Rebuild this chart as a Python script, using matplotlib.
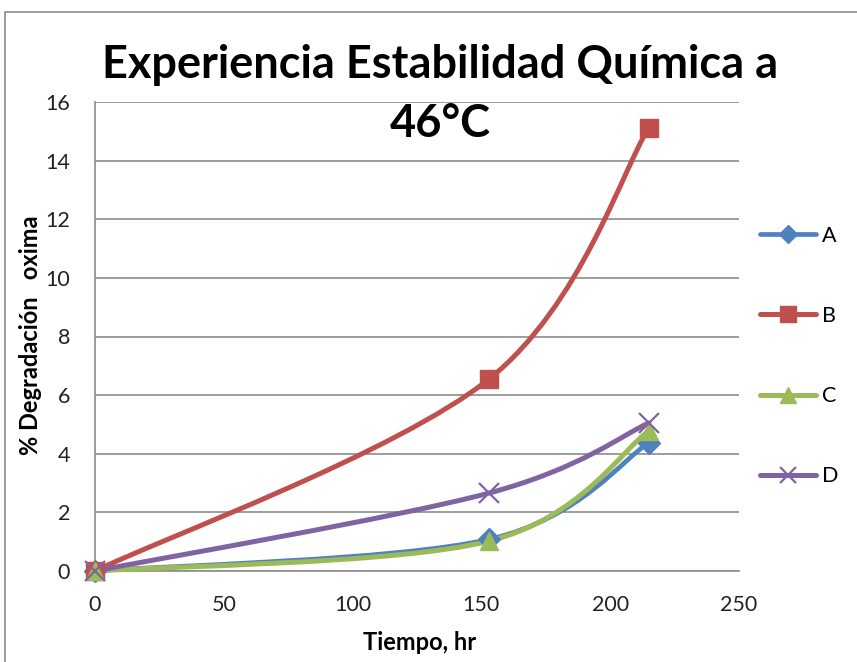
import matplotlib.pyplot as plt
import numpy as np
from matplotlib.path import Path
from matplotlib.patches import PathPatch, Rectangle
from matplotlib.lines import Line2D

plt.rcParams['font.family'] = ['Lato', 'DejaVu Sans']

tiempo = [0, 153, 215]
serie_a = [0.0, 1.08, 4.37]
serie_b = [0.0, 6.55, 15.12]
serie_c = [0.0, 1.02, 4.78]
serie_d = [0.0, 2.66, 5.05]
nombres = ['A', 'B', 'C', 'D']
colores = ['#4F81BD', '#C0504D', '#9BBB59', '#8064A2']
marcadores = ['D', 's', '^', 'x']
tam_marcador = [11, 13, 13, 14]
ancho_linea = [3.4, 3.6, 3.6, 3.6]


def curva_suave(xs, ys):
    # Catmull-Rom segments expressed as cubic Bezier path
    p = np.column_stack([xs, ys]).astype(float)
    n = len(p)
    verts = [p[0]]
    codes = [Path.MOVETO]
    for i in range(n - 1):
        p_prev = p[i - 1] if i > 0 else p[i]
        p_next = p[i + 2] if i + 2 < n else p[i + 1]
        c1 = p[i] + (p[i + 1] - p_prev) / 6.0
        c2 = p[i + 1] - (p_next - p[i]) / 6.0
        verts += [c1, c2, p[i + 1]]
        codes += [Path.CURVE4] * 3
    return Path(verts, codes)


fig = plt.figure(figsize=(8.57, 6.62), dpi=100)
ax = fig.add_axes([95 / 857, 1 - 571 / 662, 644 / 857, 469 / 662])

# outer chart frame
fig.patches.append(Rectangle((5 / 857, -0.1), 1.2, 1 - 12 / 662 + 0.1,
                             transform=fig.transFigure, fill=False,
                             edgecolor='#8c8c8c', linewidth=1.2))

series = [serie_a, serie_b, serie_c, serie_d]
handles = []
for ys, nom, col, mk, ms, lw in zip(series, nombres, colores, marcadores,
                                    tam_marcador, ancho_linea):
    ax.add_patch(PathPatch(curva_suave(tiempo, ys), fill=False,
                           edgecolor=col, linewidth=lw, capstyle='round',
                           zorder=3, clip_on=False))
    if mk == 'x':
        ax.plot(tiempo, ys, linestyle='none', marker=mk, markersize=ms,
                markeredgecolor=col, markeredgewidth=1.6, zorder=4,
                clip_on=False)
    else:
        ax.plot(tiempo, ys, linestyle='none', marker=mk, markersize=ms,
                color=col, markeredgecolor=col, zorder=4, clip_on=False)
    handles.append(Line2D([], [], color=col, linewidth=lw, marker=mk,
                          markersize=ms * 0.85, markeredgecolor=col,
                          markeredgewidth=1.6 if mk == 'x' else 1,
                          solid_capstyle='round'))

ax.set_xlim(0, 250)
ax.set_ylim(0, 16)
ax.set_xticks(np.arange(0, 251, 50))
ax.set_yticks(np.arange(0, 17, 2))
ax.grid(axis='y', color='#8c8c8c', linewidth=1.2)
ax.set_axisbelow(True)
for s in ['top', 'right']:
    ax.spines[s].set_visible(False)
for s in ['left', 'bottom']:
    ax.spines[s].set_color('#8c8c8c')
    ax.spines[s].set_linewidth(1.2)
ax.tick_params(axis='both', colors='#8c8c8c', labelcolor='#222222',
               labelsize=15.5, length=0)
ax.tick_params(axis='x', pad=17)
ax.tick_params(axis='y', pad=18)

fig.text(420 / 857, 1 - 643 / 662, 'Tiempo, hr', ha='center', va='center',
         fontsize=17, fontweight='bold')
fig.text(31 / 857, 1 - 335 / 662, '% Degradación   oxima', ha='center',
         va='center', rotation=90, fontsize=17, fontweight='bold')

fig.text(440 / 857, 1 - 65 / 662, 'Experiencia Estabilidad Química a',
         ha='center', va='center', fontsize=32.5, fontweight='bold')
fig.text(440 / 857, 1 - 124 / 662, '46°C',
         ha='center', va='center', fontsize=32.5, fontweight='bold')

fig.legend(handles, nombres, loc='center left',
           bbox_to_anchor=(741 / 857, 1 - 356 / 662), frameon=False,
           fontsize=15.5, handlelength=2.6, labelspacing=2.8,
           handletextpad=0.25)

fig.savefig('out.png', dpi=100)
